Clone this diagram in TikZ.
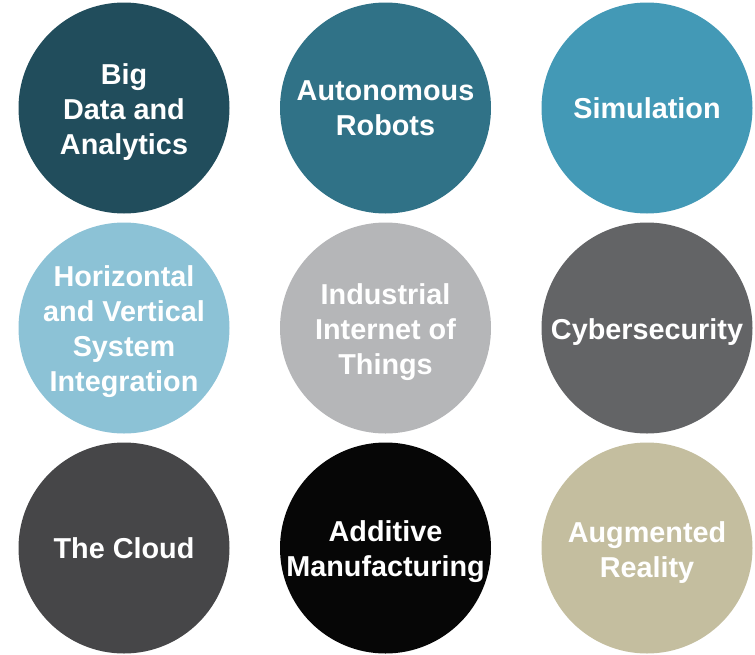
\documentclass[tikz,border=0pt]{standalone}
\usepackage{fontspec}
\setmainfont{Liberation Sans}
\definecolor{bigdata}{RGB}{33,77,92}
\definecolor{robots}{RGB}{48,114,135}
\definecolor{simul}{RGB}{67,153,182}
\definecolor{integr}{RGB}{140,194,214}
\definecolor{iiot}{RGB}{181,182,184}
\definecolor{cyber}{RGB}{99,100,102}
\definecolor{cloud}{RGB}{70,70,72}
\definecolor{additive}{RGB}{6,6,6}
\definecolor{augmented}{RGB}{196,190,159}
\newcommand\toppad{\rule{0pt}{29pt}}
\begin{document}
\begin{tikzpicture}[x=1pt,y=-1pt,
  tech/.style={circle, minimum size=211pt, inner sep=0pt, text=white,
    align=center, font=\fontsize{28.8}{35}\selectfont\bfseries}]
  \useasboundingbox (0,0) rectangle (755,654);
  % first row
  \node[tech, fill=bigdata] (bigdata) at (124,108) {\toppad Big\\Data and\\Analytics};
  \node[tech, fill=robots] (robots) at (385.5,108) {Autonomous\\Robots};
  \node[tech, fill=simul] (simul) at (647,108) {Simulation};
  % second row
  \node[tech, fill=integr, inner sep=-8pt] (integr) at (124,328) {\toppad Horizontal\\and Vertical\\System\\Integration};
  \node[tech, fill=iiot] (iiot) at (385.5,328) {\toppad Industrial\\Internet of\\Things};
  \node[tech, fill=cyber] (cyber) at (647,328) {\toppad Cybersecurity};
  % third row
  \node[tech, fill=cloud] (cloud) at (124,548) {The Cloud};
  \node[tech, fill=additive] (additive) at (385.5,548) {\toppad Additive\\Manufacturing};
  \node[tech, fill=augmented] (augmented) at (647,548) {\toppad Augmented\\Reality};
\end{tikzpicture}
\end{document}
